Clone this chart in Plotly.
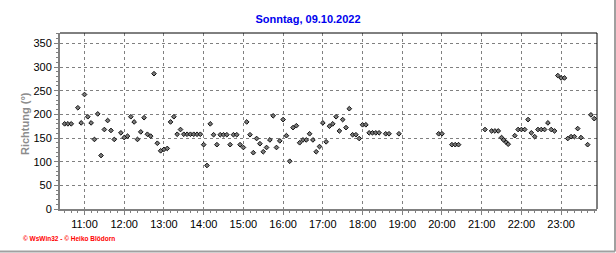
import plotly.graph_objects as go

DATE = "2022-10-09"

times = [
    "10:30", "10:35", "10:40", "10:50", "10:55", "11:00", "11:05", "11:10", "11:15", "11:20",
    "11:25", "11:30", "11:35", "11:40", "11:45", "11:55", "12:00", "12:05", "12:10", "12:15",
    "12:20", "12:25", "12:30", "12:35", "12:40", "12:45", "12:50", "12:55", "13:00", "13:05",
    "13:10", "13:15", "13:20", "13:25", "13:30", "13:35", "13:40", "13:45", "13:50", "13:55",
    "14:00", "14:05", "14:10", "14:15", "14:20", "14:25", "14:30", "14:35", "14:40", "14:45",
    "14:50", "14:55", "15:00", "15:05", "15:10", "15:15", "15:20", "15:25", "15:30", "15:35",
    "15:40", "15:45", "15:50", "15:55", "16:00", "16:05", "16:10", "16:15", "16:20", "16:25",
    "16:30", "16:35", "16:40", "16:45", "16:50", "16:55", "17:00", "17:05", "17:10", "17:15",
    "17:20", "17:25", "17:30", "17:35", "17:40", "17:45", "17:50", "17:55", "18:00", "18:05",
    "18:10", "18:15", "18:20", "18:25", "18:35", "18:40", "18:55", "19:55", "20:00", "20:15",
    "20:20", "20:25", "21:05", "21:15", "21:20", "21:25", "21:30", "21:33", "21:37", "21:40",
    "21:50", "21:55", "22:00", "22:05", "22:10", "22:15", "22:20", "22:25", "22:30", "22:35",
    "22:40", "22:45", "22:50", "22:55", "23:00", "23:05", "23:10", "23:15", "23:20", "23:25",
    "23:30", "23:40", "23:45", "23:50",
]

richtung = [
    180, 180, 180, 214, 182, 242, 195, 182, 147, 201,
    113, 168, 187, 166, 147, 161, 151, 154, 195, 184,
    147, 163, 193, 158, 154, 286, 139, 123, 126, 128,
    184, 195, 158, 168, 158, 158, 158, 158, 158, 158,
    136, 92, 180, 157, 136, 157, 157, 157, 136, 157,
    157, 136, 130, 184, 157, 119, 149, 138, 121, 130,
    146, 197, 130, 144, 189, 155, 101, 172, 176, 140,
    146, 146, 159, 146, 121, 132, 182, 142, 175, 180,
    195, 165, 189, 172, 212, 157, 157, 149, 178, 178,
    161, 161, 161, 161, 159, 159, 159, 159, 159, 136,
    136, 136, 168, 165, 165, 165, 151, 146, 141, 137,
    155, 168, 168, 168, 189, 161, 153, 168, 168, 168,
    182, 168, 165, 282, 277, 277, 149, 153, 153, 170,
    151, 136, 199, 191,
]

y_ticks = [0, 50, 100, 150, 200, 250, 300, 350]
title_text = "Sonntag, 09.10.2022"
y_title = "Richtung (°)"
credit = "© WsWin32 - © Heiko Blödorn"

x = [f"{DATE} {t}" for t in times]

W, H = 616, 253
L, R, T, B = 60, 19, 33, 44
pw, ph = W - L - R, H - T - B

fig = go.Figure()
fig.add_trace(go.Scatter(
    x=x, y=richtung, mode="markers",
    marker=dict(symbol="diamond", size=3.6, color="#7a7a7a",
                line=dict(color="#101010", width=1)),
    hoverinfo="x+y", showlegend=False,
))

font = "Liberation Sans, Arial, sans-serif"
fig.update_layout(
    width=W, height=H,
    margin=dict(l=L, r=R, t=T, b=B, pad=0),
    paper_bgcolor="white", plot_bgcolor="white",
    font=dict(family=font, size=11, color="black"),
    title=dict(text=f"<b>{title_text}</b>", x=0.5, xanchor="center", xref="container",
               y=1 - 19 / H, yanchor="middle", yref="container",
               font=dict(family=font, size=11, color="#0000ee")),
    xaxis=dict(
        type="date",
        range=[f"{DATE} 10:23:00", f"{DATE} 23:54:10"],
        tick0=f"{DATE} 11:00", dtick=3600000, tickformat="%H:%M",
        ticks="outside", ticklen=4, tickwidth=1, tickcolor="#808080",
        showline=True, linecolor="#808080", linewidth=2,
        showgrid=True, gridcolor="#808080", gridwidth=1, griddash="3px,3px",
        zeroline=False,
        minor=dict(dtick=600000, ticks="outside", ticklen=2, tickcolor="#808080", showgrid=False),
        tickfont=dict(family=font, size=11, color="black"),
        fixedrange=True,
    ),
    yaxis=dict(
        range=[0, 372],
        tickvals=y_ticks,
        ticks="outside", ticklen=4, tickwidth=1, tickcolor="#808080",
        showline=True, linecolor="#808080", linewidth=2,
        showgrid=True, gridcolor="#808080", gridwidth=1, griddash="3px,3px",
        zeroline=False,
        minor=dict(dtick=10, ticks="outside", ticklen=2, tickcolor="#808080", showgrid=False),
        tickfont=dict(family=font, size=11, color="black"),
        fixedrange=True,
    ),
)

# black top / right border of the plot area
fig.add_shape(type="line", xref="paper", yref="paper", x0=0, x1=1, y0=1, y1=1,
              line=dict(color="black", width=1))
fig.add_shape(type="line", xref="paper", yref="paper", x0=1, x1=1, y0=0, y1=1,
              line=dict(color="black", width=1))

# outer gray frame lines (right and bottom edges of the image)
xr = (W - 1 - L) / pw
yb = -(H - 1.5 - (T + ph)) / ph
fig.add_shape(type="line", xref="paper", yref="paper", x0=xr, x1=xr, y0=yb, y1=(T + ph) / ph,
              line=dict(color="#a0a0a0", width=2))
fig.add_shape(type="line", xref="paper", yref="paper", x0=-L / pw, x1=xr, y0=yb, y1=yb,
              line=dict(color="#a0a0a0", width=2))

# y-axis title
fig.add_annotation(text=f"<b>{y_title}</b>", xref="paper", yref="paper",
                   x=(25 - L) / pw, y=(T + ph - 124) / ph, xanchor="center", yanchor="middle",
                   textangle=-90, showarrow=False,
                   font=dict(family=font, size=11, color="#8c8c8c"))

# credit line
fig.add_annotation(text=f"<b>{credit}</b>", xref="paper", yref="paper",
                   x=(21 - L) / pw, y=(T + ph - 238.5) / ph, xanchor="left", yanchor="middle",
                   showarrow=False,
                   font=dict(family=font, size=6.5, color="#ff0000"))

fig.write_html("out.html")
